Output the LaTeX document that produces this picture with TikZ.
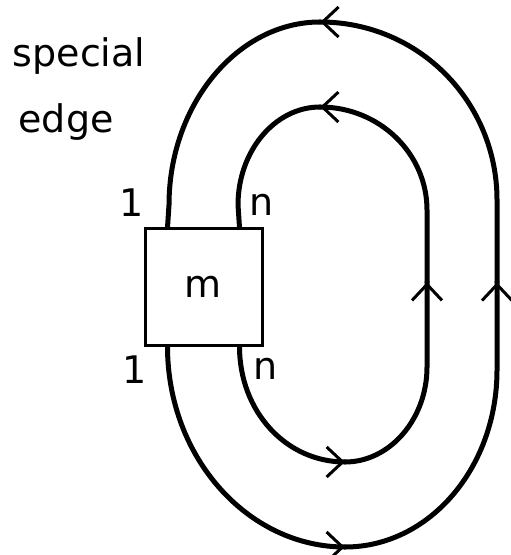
\documentclass[tikz,border=0pt]{standalone}
\usepackage{fontspec}
\setmainfont{DejaVu Sans}
\usetikzlibrary{arrows.meta,calc,decorations.markings}

\begin{document}
\begin{tikzpicture}[x=0.5pt,y=-0.5pt,
		font=\fontsize{19}{22}\selectfont,
		strand/.style={line width=2.5pt,line cap=round},
		flow/.style={strand,decoration={markings,
			mark=at position 0.999 with {\arrow{Straight Barb[length=8pt,width=15pt,line width=1.5pt]}}},
			postaction=decorate}]
	\useasboundingbox (0,0) rectangle (510,555);
	\node[draw,line width=1.5pt,minimum width=58.5pt,minimum height=58pt,inner sep=0pt] (m) at (203.5,287) {m};
	% ends of the two strands at the box
	\coordinate (ot) at ($(m.north west)+(24,0)$);
	\coordinate (ob) at ($(m.south west)+(24,0)$);
	\coordinate (it) at ($(m.north east)+(-24,0)$);
	\coordinate (ib) at ($(m.south east)+(-24,0)$);
	% outer strand
	\coordinate (oB) at (345,547);
	\coordinate (or1) at (497,370);
	\coordinate (oR) at (497,282);
	\coordinate (or2) at (497,200);
	\coordinate (oT) at (320,22);
	\coordinate (ol) at (169,205);
	\draw[flow] (ob) .. controls +(0,111) and +(-97,0) .. (oB);
	\draw[flow] (oB) .. controls +(84,0) and +(0,98) .. (or1) -- (oR);
	\draw[flow] (oR) -- (or2) .. controls +(0,-98) and +(99,0) .. (oT);
	\draw[strand] (oT) .. controls +(-82,0) and +(0,-101) .. (ol) -- (ot);
	% inner strand
	\coordinate (iB) at (345,462);
	\coordinate (ir1) at (427,367);
	\coordinate (iR) at (427,282);
	\coordinate (ir2) at (427,210);
	\coordinate (iT) at (320,107);
	\coordinate (il) at (238,205);
	\draw[flow] (ib) .. controls +(0,65) and +(-59,0) .. (iB);
	\draw[flow] (iB) .. controls +(45,0) and +(0,52) .. (ir1) -- (iR);
	\draw[flow] (iR) -- (ir2) .. controls +(0,-57) and +(59,0) .. (iT);
	\draw[strand] (iT) .. controls +(-45,0) and +(0,-54) .. (il) -- (it);
	% labels
	\node (special) at (79,56) {special};
	\node (edge) at (66,122) {edge};
	\node (onetop) at (132,203) {1};
	\node (ntop) at (262,205) {n};
	\node (onebot) at (135,370) {1};
	\node (nbot) at (266,369) {n};
\end{tikzpicture}
\end{document}
